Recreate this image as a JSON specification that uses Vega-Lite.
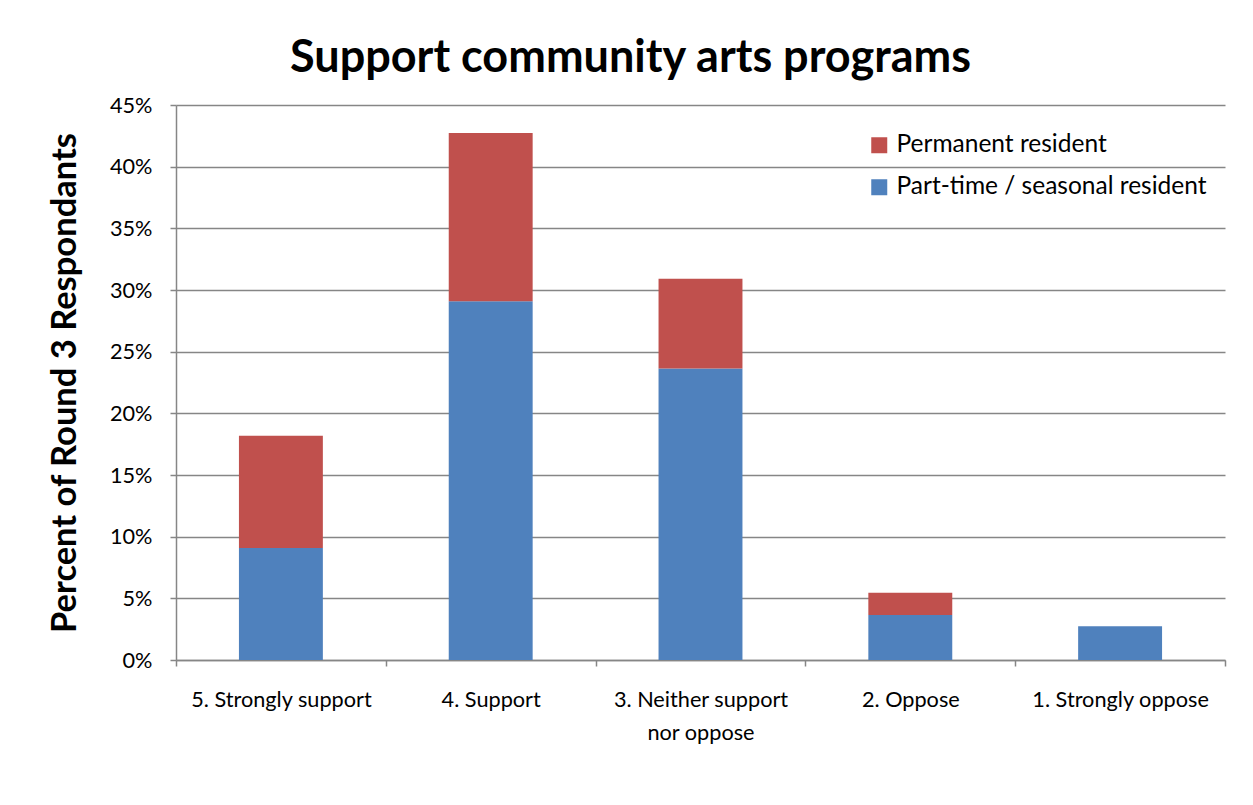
{
  "$schema": "https://vega.github.io/schema/vega-lite/v6.json",
  "width": 1049,
  "height": 555,
  "autosize": "none",
  "padding": {"left": 176, "top": 105, "right": 28, "bottom": 145},
  "background": "white",
  "title": {
    "text": "Support community arts programs",
    "font": "Lato",
    "fontSize": 45,
    "fontWeight": "bold",
    "color": "#000000",
    "anchor": "middle",
    "dx": -70,
    "offset": 14
  },
  "config": {
    "view": {"stroke": null},
    "font": "Lato"
  },
  "data": {
    "values": [
      {"category": "5. Strongly support", "series": "Part-time / seasonal resident", "value": 0.0909},
      {"category": "5. Strongly support", "series": "Permanent resident", "value": 0.0909},
      {"category": "4. Support", "series": "Part-time / seasonal resident", "value": 0.2909},
      {"category": "4. Support", "series": "Permanent resident", "value": 0.1364},
      {"category": "3. Neither support nor oppose", "series": "Part-time / seasonal resident", "value": 0.2364},
      {"category": "3. Neither support nor oppose", "series": "Permanent resident", "value": 0.0727},
      {"category": "2. Oppose", "series": "Part-time / seasonal resident", "value": 0.0364},
      {"category": "2. Oppose", "series": "Permanent resident", "value": 0.0182},
      {"category": "1. Strongly oppose", "series": "Part-time / seasonal resident", "value": 0.0273},
      {"category": "1. Strongly oppose", "series": "Permanent resident", "value": 0}
    ]
  },
  "mark": {"type": "bar", "width": {"band": 0.4}},
  "encoding": {
    "x": {
      "field": "category",
      "type": "nominal",
      "sort": null,
      "scale": {"paddingInner": 0, "paddingOuter": 0},
      "axis": {
        "title": null,
        "labelAngle": 0,
        "labelFont": "Lato",
        "labelFontSize": 21.7,
        "labelColor": "#000000",
        "labelPadding": 23,
        "labelLineHeight": 33,
        "labelLimit": 0,
        "labelExpr": "datum.label == '3. Neither support nor oppose' ? ['3. Neither support', 'nor oppose'] : datum.label",
        "tickBand": "extent",
        "tickSize": 6,
        "tickColor": "#868686",
        "domainColor": "#868686",
        "domainWidth": 1.5,
        "tickWidth": 1.5,
        "grid": false
      }
    },
    "y": {
      "field": "value",
      "type": "quantitative",
      "stack": "zero",
      "scale": {"domain": [0, 0.45], "nice": false},
      "axis": {
        "title": "Percent of Round 3 Respondants",
        "titleFont": "Lato",
        "titleFontSize": 34.5,
        "titleFontWeight": "bold",
        "titleColor": "#000000",
        "titlePadding": 27,
        "titleLimit": 0,
        "values": [0, 0.05, 0.1, 0.15, 0.2, 0.25, 0.3, 0.35, 0.4, 0.45],
        "format": ".0%",
        "labelFont": "Lato",
        "labelFontSize": 21.7,
        "labelColor": "#000000",
        "labelPadding": 18,
        "tickSize": 6,
        "tickColor": "#868686",
        "domainColor": "#868686",
        "domainWidth": 1.5,
        "tickWidth": 1.5,
        "gridColor": "#868686",
        "gridWidth": 1.5
      }
    },
    "color": {
      "field": "series",
      "type": "nominal",
      "scale": {
        "domain": ["Permanent resident", "Part-time / seasonal resident"],
        "range": ["#C0504D", "#4F81BD"]
      },
      "legend": {
        "title": null,
        "orient": "none",
        "legendX": 691,
        "legendY": 28,
        "symbolType": "square",
        "symbolSize": 256,
        "symbolStrokeWidth": 0,
        "labelFont": "Lato",
        "labelFontSize": 24.5,
        "labelColor": "#000000",
        "labelOffset": 5,
        "labelLimit": 0,
        "rowPadding": 17
      }
    },
    "order": {"field": "series", "sort": "ascending"}
  }
}
